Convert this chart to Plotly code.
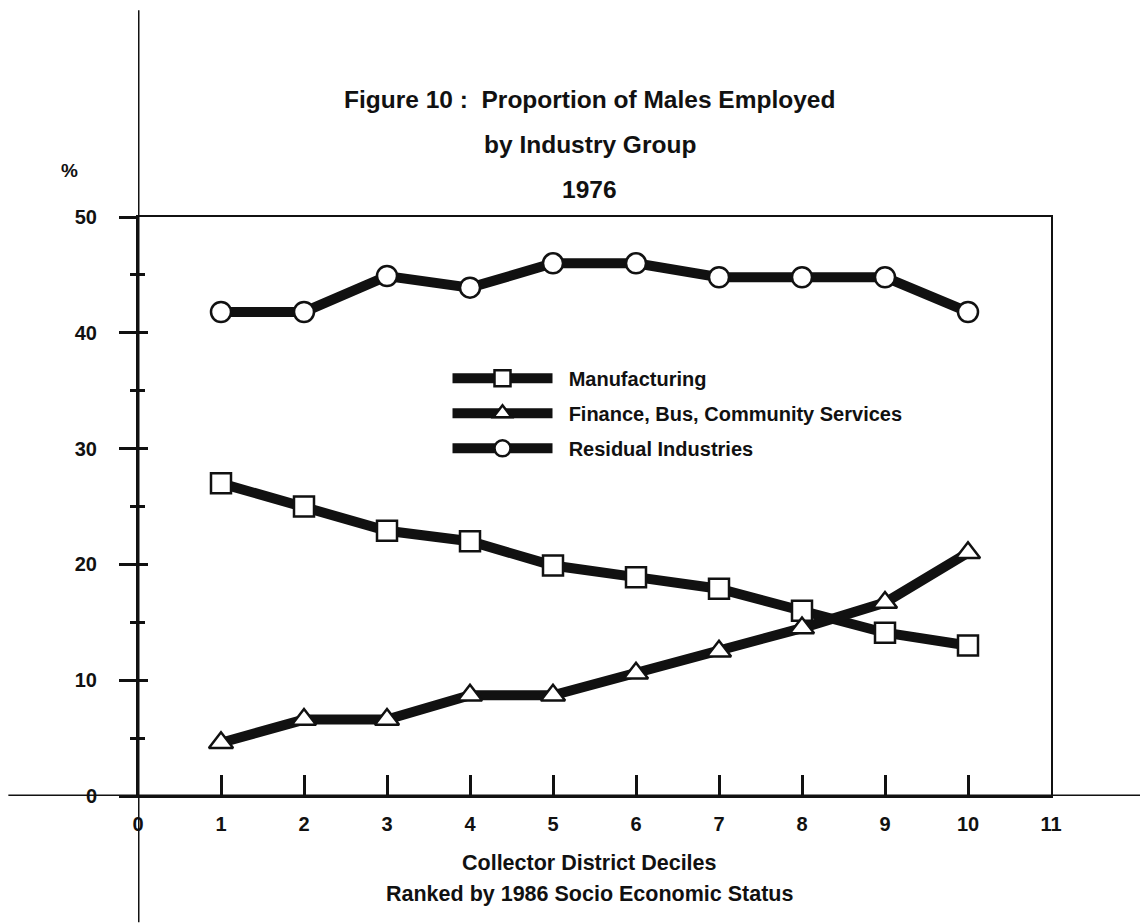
import plotly.graph_objects as go

# deciles (1 = lowest SES)
deciles = [1, 2, 3, 4, 5, 6, 7, 8, 9, 10]

# % of males employed
manufacturing = [27.0, 25.0, 22.9, 22.0, 19.9, 18.9, 17.9, 16.0, 14.1, 13.0]
finance_bus_community = [4.6, 6.6, 6.6, 8.7, 8.7, 10.6, 12.5, 14.5, 16.7, 21.0]
residual = [41.8, 41.8, 44.9, 43.9, 46.0, 46.0, 44.8, 44.8, 44.8, 41.8]

x_ticks = list(range(0, 12))
y_ticks = [0, 10, 20, 30, 40, 50]

INK = "#111111"
FONT = "Liberation Sans, Arial, sans-serif"

series = [
    ("Manufacturing", manufacturing, "square", 20),
    ("Finance, Bus, Community Services", finance_bus_community, "triangle-up", 21),
    ("Residual Industries", residual, "circle", 20),
]

fig = go.Figure()

for name, vals, sym, size in series:
    fig.add_trace(go.Scatter(
        x=deciles, y=vals, name="&nbsp;&nbsp;<b>" + name + "</b>",
        mode="lines+markers",
        legendgroup=name,
        line=dict(color=INK, width=10),
        marker=dict(symbol=sym, size=size, color="white",
                    line=dict(color=INK, width=2.5)),
    ))

# dummy trace just to get the inside half of the crossing y ticks
fig.add_trace(go.Scatter(x=[None], y=[None], yaxis="y2", showlegend=False))

# page body has an 8px margin, so the margins here are 8px smaller
fig.update_layout(
    width=1148, height=924,
    margin=dict(l=130, r=105, t=209, b=136),
    plot_bgcolor="white", paper_bgcolor="white",
    font=dict(family=FONT, color=INK, size=20),
    showlegend=True,
    legend=dict(x=0.339, y=0.755, xanchor="left", yanchor="top",
                bgcolor="rgba(0,0,0,0)", tracegroupgap=6,
                itemwidth=100, font=dict(size=20)),
    xaxis=dict(range=[0, 11], tickvals=x_ticks,
               ticktext=["<b>%d</b>" % v for v in x_ticks],
               ticks="inside", ticklen=21, tickwidth=3, tickcolor=INK,
               ticklabelstandoff=9,
               showline=True, linecolor=INK, linewidth=2, mirror=True,
               showgrid=False, zeroline=False),
    yaxis=dict(range=[0, 50], tickvals=y_ticks,
               ticktext=["<b>%d</b>" % v for v in y_ticks],
               ticks="outside", ticklen=17, tickwidth=3, tickcolor=INK,
               minor=dict(tickvals=[5, 15, 25, 35, 45], ticks="outside",
                          ticklen=6, tickwidth=3, tickcolor=INK),
               ticklabelstandoff=18,
               showline=True, linecolor=INK, linewidth=2, mirror=True,
               showgrid=False, zeroline=False),
    yaxis2=dict(range=[0, 50], overlaying="y", side="left",
                tickvals=y_ticks, showticklabels=False,
                ticks="inside", ticklen=10, tickwidth=3, tickcolor=INK,
                minor=dict(tickvals=[5, 15, 25, 35, 45], ticks="inside",
                           ticklen=7, tickwidth=3, tickcolor=INK),
                showgrid=False, zeroline=False, showline=False),
)

# long axis lines running past the box
fig.add_shape(type="line", xref="x", yref="paper", x0=0, x1=0,
              y0=-0.218, y1=1.357, line=dict(color=INK, width=3))
fig.add_shape(type="line", xref="paper", yref="y", x0=-0.142, x1=1.106,
              y0=0, y1=0, line=dict(color=INK, width=3))

title_lines = [
    ("<b>Figure 10 :  Proportion of Males Employed</b>", 1.229),
    ("<b>by Industry Group</b>", 1.152),
    ("<b>1976</b>", 1.074),
]
for txt, yy in title_lines:
    fig.add_annotation(text=txt, xref="paper", yref="paper", x=0.495, y=yy,
                       showarrow=False, font=dict(size=24.5, family=FONT, color=INK))

fig.add_annotation(text="<b>%</b>", xref="paper", yref="paper",
                   x=-0.086, y=1.102, showarrow=False, font=dict(size=19))
fig.add_annotation(text="<b>Collector District Deciles</b>", xref="paper", yref="paper",
                   x=0.495, y=-0.140, showarrow=False, font=dict(size=21.5))
fig.add_annotation(text="<b>Ranked by 1986 Socio Economic Status</b>", xref="paper",
                   yref="paper", x=0.495, y=-0.194, showarrow=False, font=dict(size=21.5))

fig.write_html("out.html")
